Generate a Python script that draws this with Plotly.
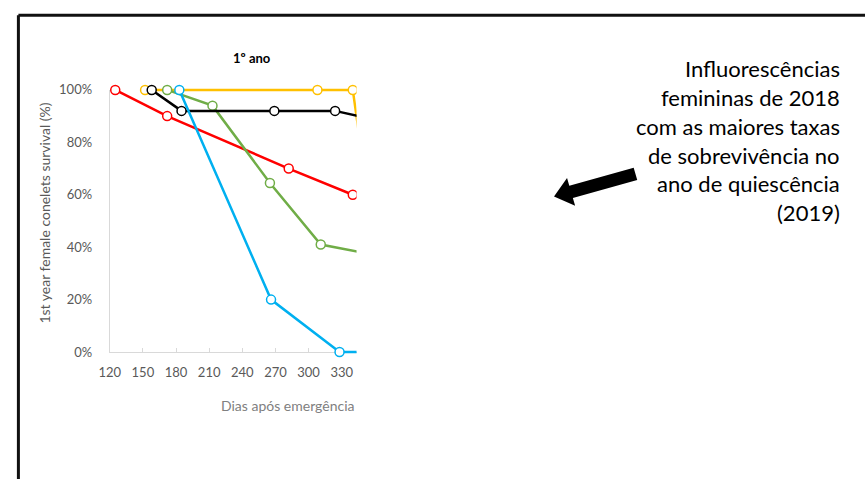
import plotly.graph_objects as go

# ---- data ----
red_days = [125, 172, 282, 340]
red_surv = [1.00, 0.90, 0.70, 0.60]
yellow_days = [152, 308, 340, 350]
yellow_surv = [1.00, 1.00, 1.00, 0.70]
green_days = [172, 213, 265, 311, 360]
green_surv = [1.00, 0.94, 0.645, 0.41, 0.37]
black_days = [158, 185, 269, 324, 360]
black_surv = [1.00, 0.92, 0.92, 0.92, 0.886]
blue_days = [183, 266, 328, 360]
blue_surv = [1.00, 0.20, 0.00, 0.00]

x_ticks = [120, 150, 180, 210, 240, 270, 300, 330]
y_ticks = [0.0, 0.2, 0.4, 0.6, 0.8, 1.0]

title_text = "1º ano"
y_title = "1st year female conelets survival (%)"
x_title = "Dias após emergência"
side_lines = ["Influorescências", "femininas de 2018", "com as maiores taxas",
              "de sobrevivência no", "ano de quiescência", "(2019)"]

W, H = 865, 487
FONT = "Lato"
GREY = "#595959"
AXIS = "#d9d9d9"


def px(x, y):
    return x / W, 1 - y / H


X_RANGE = [120, 343.4]
x_dom = [100 / W, 350 / W]
y0_px, y1_px = 355.7, 84.7
pad = 0.04
unit = y0_px - y1_px
ax_dom = [1 - y0_px / H, 1 - y1_px / H]
tr_dom = [1 - (y0_px + pad * unit) / H, 1 - (y1_px - pad * unit) / H]

fig = go.Figure()

series = [
    (yellow_days, yellow_surv, "#FFC000"),
    (red_days, red_surv, "#FF0000"),
    (green_days, green_surv, "#70AD47"),
    (black_days, black_surv, "#000000"),
    (blue_days, blue_surv, "#00B0F0"),
]
for xs, ys, col in series:
    fig.add_trace(go.Scatter(
        x=xs, y=ys, mode="lines+markers", xaxis="x2", yaxis="y2",
        line=dict(color=col, width=2.5),
        marker=dict(size=9, color="white", line=dict(color=col, width=1.5)),
        showlegend=False, hoverinfo="skip"))

# empty trace so that the display axes subplot is created
fig.add_trace(go.Scatter(x=[], y=[], xaxis="x", yaxis="y", showlegend=False,
                         hoverinfo="skip"))

fig.update_layout(
    autosize=True,
    margin=dict(l=0, r=0, t=0, b=0, pad=0),
    paper_bgcolor="white", plot_bgcolor="rgba(0,0,0,0)",
    font=dict(family=FONT, color=GREY, size=13),
    hovermode=False,
    xaxis=dict(domain=x_dom, range=X_RANGE, anchor="y",
               tickvals=x_ticks, ticktext=[str(v) for v in x_ticks],
               showline=True, linecolor=AXIS, linewidth=1,
               ticks="inside", ticklen=4, tickcolor=AXIS,
               showgrid=False, zeroline=False,
               tickfont=dict(family=FONT, size=13, color=GREY),
               ticklabelstandoff=8),
    yaxis=dict(domain=ax_dom, range=[0, 1], anchor="x",
               tickvals=y_ticks, tickformat=".0%",
               showline=True, linecolor=AXIS, linewidth=1,
               ticks="", showgrid=False, zeroline=False,
               tickfont=dict(family=FONT, size=13, color=GREY),
               ticklabelstandoff=14),
    xaxis2=dict(domain=x_dom, range=X_RANGE, anchor="y2", visible=False),
    yaxis2=dict(domain=tr_dom, range=[-pad, 1 + pad], anchor="x2", visible=False),
)

ann = []
tx, ty = px(244, 52)
ann.append(dict(text="<b>" + title_text + "</b>", x=tx, y=ty, xref="paper", yref="paper",
                showarrow=False, xanchor="center", yanchor="middle",
                font=dict(family=FONT, size=13, color="#000000")))
tx, ty = px(33, 212)
ann.append(dict(text=y_title, x=tx, y=ty, xref="paper", yref="paper", textangle=-90,
                showarrow=False, xanchor="center", yanchor="middle",
                font=dict(family=FONT, size=14, color=GREY)))
tx, ty = px(350, 411)
ann.append(dict(text=x_title, x=tx, y=ty, xref="paper", yref="paper",
                showarrow=False, xanchor="right", yanchor="middle",
                font=dict(family=FONT, size=14, color="#808080")))
for i, line in enumerate(side_lines):
    tx, ty = px(842, 63 + 29.7 * i)
    ann.append(dict(text=line, x=tx, y=ty, xref="paper", yref="paper",
                    showarrow=False, xanchor="right", yanchor="middle",
                    font=dict(family=FONT, size=22, color="#000000")))
fig.update_layout(annotations=ann)

# frame
shapes = []
a, b = px(7.5, 7.5)
c, d = px(W, 7.5)
shapes.append(dict(type="line", xref="paper", yref="paper", x0=a, y0=b, x1=c, y1=d,
                   line=dict(color="#111111", width=3)))
c, d = px(7.5, H)
shapes.append(dict(type="line", xref="paper", yref="paper", x0=a, y0=b, x1=c, y1=d,
                   line=dict(color="#111111", width=3)))

# arrow
arrow_px = [(630.7, 165.25), (634.3, 177.75), (569.1, 196.35), (571.4, 204.5),
            (550.0, 195.0), (563.2, 175.7), (565.5, 183.85)]
pts = [px(x, y) for x, y in arrow_px]
path = "M " + " L ".join(f"{p[0]:.5f},{p[1]:.5f}" for p in pts) + " Z"
shapes.append(dict(type="path", xref="paper", yref="paper", path=path,
                   fillcolor="#000000", line=dict(color="#000000", width=0)))
fig.update_layout(shapes=shapes)

reset_js = ("document.documentElement.style.margin='0';"
            "document.documentElement.style.padding='0';"
            "document.documentElement.style.overflow='hidden';"
            "document.body.style.margin='0';document.body.style.padding='0';"
            "document.body.style.overflow='hidden';")
fig.write_html("out.html", post_script=reset_js,
               default_width="100vw", default_height="100vh",
               config={"displayModeBar": False, "responsive": True})
